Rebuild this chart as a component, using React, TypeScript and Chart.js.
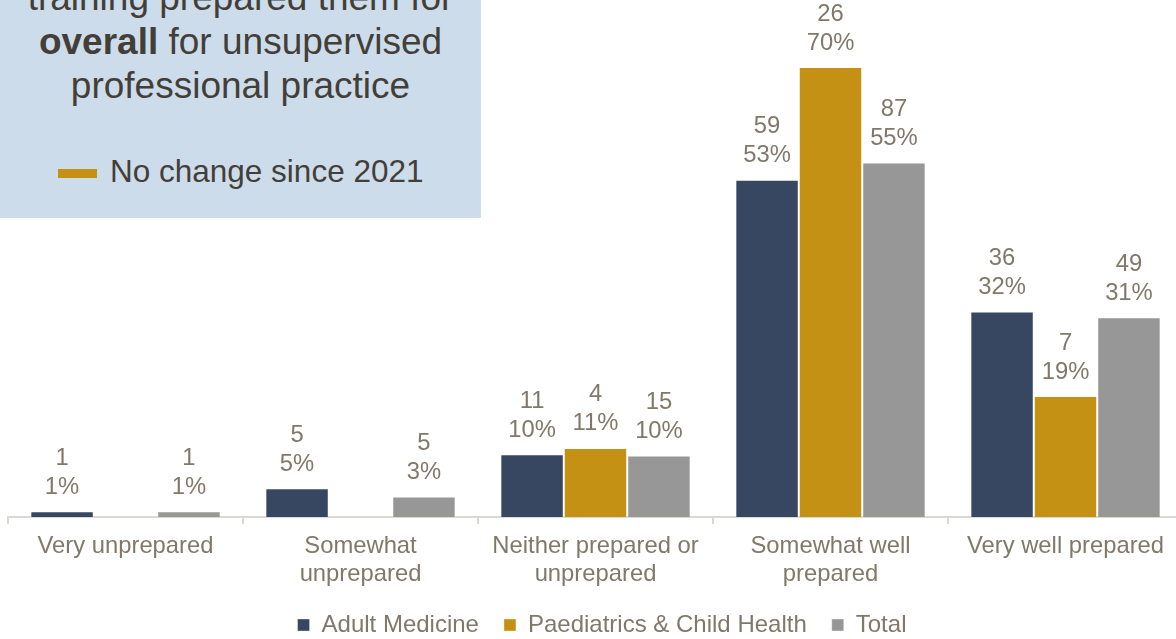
import React, { useEffect, useRef } from "react";
import { Chart, registerables } from "chart.js";

Chart.register(...registerables);

const categories: string[][] = [
  ["Very unprepared"],
  ["Somewhat", "unprepared"],
  ["Neither prepared or", "unprepared"],
  ["Somewhat well", "prepared"],
  ["Very well prepared"],
];

const seriesNames = ["Adult Medicine", "Paediatrics & Child Health", "Total"];
const seriesColors = ["#374762", "#c49114", "#969796"];

// percentage of respondents (bar height)
const adultPct = [0.9, 4.5, 9.8, 52.7, 32.1];
const paedPct = [0, 0, 10.8, 70.3, 18.9];
const totalPct = [0.9, 3.2, 9.6, 55.4, 31.2];

// respondent counts (first label line)
const adultN = [1, 5, 11, 59, 36];
const paedN = [0, 0, 4, 26, 7];
const totalN = [1, 5, 15, 87, 49];

const FONT = "'Liberation Sans', Arial, sans-serif";
const TEXT = "#81786a";

export default function App() {
  const ref = useRef<HTMLCanvasElement | null>(null);

  useEffect(() => {
    if (!ref.current) return;
    const counts = [adultN, paedN, totalN];
    const labelPlugin = {
      id: "barLabels",
      afterDatasetsDraw(chart: any) {
        const ctx = chart.ctx;
        ctx.save();
        ctx.font = `23.8px ${FONT}`;
        ctx.fillStyle = TEXT;
        ctx.textAlign = "center";
        ctx.textBaseline = "middle";
        chart.data.datasets.forEach((ds: any, di: number) => {
          const meta = chart.getDatasetMeta(di);
          meta.data.forEach((bar: any, i: number) => {
            const n = counts[di][i];
            if (!n) return;
            const pct = Math.round(ds.data[i]) + "%";
            ctx.fillText(String(n), bar.x, bar.y - 53);
            ctx.fillText(pct, bar.x, bar.y - 24);
          });
        });
        ctx.restore();
      },
    };

    const chart = new Chart(ref.current, {
      type: "bar",
      data: {
        labels: categories,
        datasets: [adultPct, paedPct, totalPct].map((d, i) => ({
          label: seriesNames[i],
          data: d,
          backgroundColor: seriesColors[i],
          borderColor: "rgba(255,255,255,0.35)",
          borderWidth: 1,
          categoryPercentage: 0.81,
          barPercentage: 1,
        })),
      },
      options: {
        responsive: false,
        animation: false,
        layout: { padding: { left: 8, right: 0, top: 5, bottom: 0 } },
        scales: {
          x: {
            grid: {
              drawOnChartArea: false,
              drawTicks: true,
              tickLength: 7,
              color: "#d9d8d2",
              lineWidth: 2,
            },
            border: { display: true, color: "#d9d8d2", width: 2 },
            ticks: {
              autoSkip: false,
              maxRotation: 0,
              minRotation: 0,
              padding: 8,
              color: TEXT,
              font: { family: FONT, size: 23.8, lineHeight: 1.18 },
            },
            afterFit: (scale: any) => {
              scale.height = 71;
            },
          },
          y: {
            position: "right",
            min: 0,
            max: 80,
            ticks: { display: false },
            grid: { display: false },
            border: { display: false },
            afterFit: (scale: any) => {
              scale.width = 13;
            },
          },
        },
        plugins: {
          legend: {
            position: "bottom",
            labels: {
              boxWidth: 12,
              boxHeight: 12,
              padding: 25,
              color: TEXT,
              font: { family: FONT, size: 24 },
            },
          },
          tooltip: { enabled: false },
        },
      },
      plugins: [labelPlugin],
    });
    return () => chart.destroy();
  }, []);

  return (
    <div
      style={{
        position: "absolute",
        left: 0,
        top: 0,
        width: 1176,
        height: 639,
        overflow: "hidden",
        background: "#fff",
      }}
    >
      <canvas
        ref={ref}
        width={1196}
        height={647}
        style={{ position: "absolute", left: 0, top: 0, width: 1196, height: 647 }}
      />
      <div
        style={{
          position: "absolute",
          left: 0,
          top: 0,
          width: 481,
          height: 218,
          background: "#cddcea",
          color: "#433f38",
          fontFamily: FONT,
          overflow: "hidden",
        }}
      >
        <div
          style={{
            position: "absolute",
            left: 0,
            top: -24,
            width: 481,
            textAlign: "center",
            fontSize: 37,
            lineHeight: "44px",
          }}
        >
          <div>training prepared them for</div>
          <div>
            <b>overall</b> for unsupervised
          </div>
          <div>professional practice</div>
        </div>
        <div
          style={{
            position: "absolute",
            left: 58,
            top: 169,
            width: 39,
            height: 9,
            background: "#c49114",
          }}
        />
        <div
          style={{
            position: "absolute",
            left: 110,
            top: 153,
            fontSize: 31.5,
            lineHeight: "36px",
            whiteSpace: "nowrap",
          }}
        >
          No change since 2021
        </div>
      </div>
    </div>
  );
}
